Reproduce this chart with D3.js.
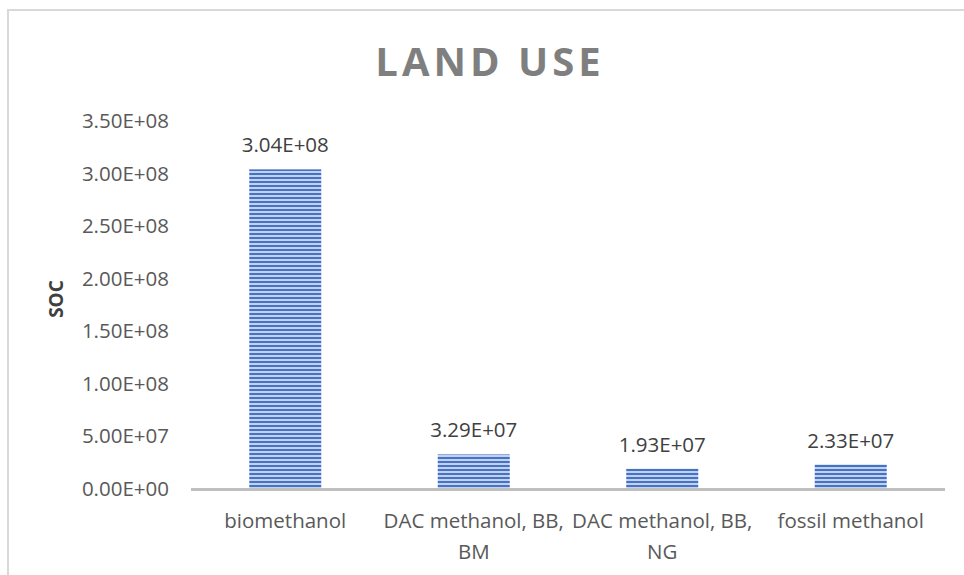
<!DOCTYPE html>
<html>
<head>
<meta charset="utf-8">
<script src="https://cdn.jsdelivr.net/npm/d3@7"></script>
<style>
  html, body { margin: 0; padding: 0; background: #fff; }
  svg { display: block; font-family: "Open Sans", "Liberation Sans", sans-serif; }
</style>
</head>
<body>
<svg id="chart" width="964" height="575"></svg>
<script>
// Land-use SOC per methanol production route
const categories = ["biomethanol", "DAC methanol, BB, BM", "DAC methanol, BB, NG", "fossil methanol"];
const socValues = [3.04e8, 3.29e7, 1.93e7, 2.33e7];
const yTicks = [0, 5e7, 1e8, 1.5e8, 2e8, 2.5e8, 3e8, 3.5e8];
const chartTitle = "LAND USE";
const yAxisTitle = "SOC";

// Excel-style scientific notation, e.g. 3.04E+08
function sci(v) {
  if (v === 0) return "0.00E+00";
  const e = Math.floor(Math.log10(Math.abs(v)));
  const m = v / Math.pow(10, e);
  const sign = e < 0 ? "-" : "+";
  return m.toFixed(2) + "E" + sign + String(Math.abs(e)).padStart(2, "0");
}

const svg = d3.select("#chart");
const W = 964, H = 575;
const plot = { left: 191, right: 945, top: 121, bottom: 489 };
const labelSize = 20.5;

// chart frame (left and top edges)
svg.append("path")
  .attr("d", `M8,${H} L8,10 L${W},10`)
  .attr("fill", "none")
  .attr("stroke", "#d9d9d9")
  .attr("stroke-width", 2);

// horizontal stripe fill for the bars
const defs = svg.append("defs");
const pat = defs.append("pattern")
  .attr("id", "stripes")
  .attr("patternUnits", "userSpaceOnUse")
  .attr("width", 8).attr("height", 4);
pat.append("rect").attr("width", 8).attr("height", 4).attr("fill", "#c3d1ee");
pat.append("rect").attr("y", 1).attr("width", 8).attr("height", 2).attr("fill", "#4472c4");

const x = d3.scaleBand()
  .domain(categories)
  .range([plot.left, plot.right])
  .paddingInner(0.618)
  .paddingOuter(0.309);

const y = d3.scaleLinear()
  .domain([0, 3.5e8])
  .range([plot.bottom, plot.top]);

// title
svg.append("text")
  .attr("x", 490).attr("y", 76)
  .attr("text-anchor", "middle")
  .attr("font-size", 40)
  .attr("font-weight", "bold")
  .attr("letter-spacing", 4)
  .attr("fill", "#7f7f7f")
  .text(chartTitle);

// y axis tick labels
const yAxis = d3.axisLeft(y)
  .tickValues(yTicks)
  .tickFormat(sci)
  .tickSize(0)
  .tickPadding(0);
const yg = svg.append("g")
  .attr("transform", `translate(169,0)`)
  .call(yAxis);
yg.select(".domain").remove();
yg.selectAll("text")
  .attr("font-size", labelSize)
  .attr("font-family", "'Open Sans', sans-serif")
  .attr("fill", "#595959");

// y axis title
svg.append("text")
  .attr("transform", `translate(63,${(plot.top + plot.bottom) / 2 - 6}) rotate(-90)`)
  .attr("text-anchor", "middle")
  .attr("font-size", 19)
  .attr("font-weight", "bold")
  .attr("fill", "#404040")
  .text(yAxisTitle);

// bars
svg.append("g").selectAll("rect")
  .data(categories)
  .join("rect")
  .attr("x", d => x(d))
  .attr("width", x.bandwidth())
  .attr("y", (d, i) => y(socValues[i]))
  .attr("height", (d, i) => y(0) - y(socValues[i]))
  .attr("fill", "url(#stripes)");

// category axis line
svg.append("line")
  .attr("x1", plot.left).attr("x2", plot.right)
  .attr("y1", plot.bottom + 0.5).attr("y2", plot.bottom + 0.5)
  .attr("stroke", "#bfbfbf")
  .attr("stroke-width", 3);

// value labels
svg.append("g").selectAll("text")
  .data(categories)
  .join("text")
  .attr("x", d => x(d) + x.bandwidth() / 2)
  .attr("y", (d, i) => y(socValues[i]) - 17)
  .attr("text-anchor", "middle")
  .attr("font-size", labelSize)
  .attr("fill", "#404040")
  .text((d, i) => sci(socValues[i]));

// category labels, wrapped to the band step
const step = x.step();
const labelG = svg.append("g");
categories.forEach(cat => {
  const cx = x(cat) + x.bandwidth() / 2;
  const t = labelG.append("text")
    .attr("x", cx)
    .attr("y", 528)
    .attr("text-anchor", "middle")
    .attr("font-size", labelSize)
    .attr("fill", "#595959");
  const words = cat.split(" ");
  let line = [];
  let tspan = t.append("tspan").attr("x", cx).attr("dy", 0);
  words.forEach(w => {
    line.push(w);
    tspan.text(line.join(" "));
    if (tspan.node().getComputedTextLength() > step && line.length > 1) {
      line.pop();
      tspan.text(line.join(" "));
      line = [w];
      tspan = t.append("tspan")
        .attr("x", cx)
        .attr("dy", 31)
        .text(w);
    }
  });
});
</script>
</body>
</html>
